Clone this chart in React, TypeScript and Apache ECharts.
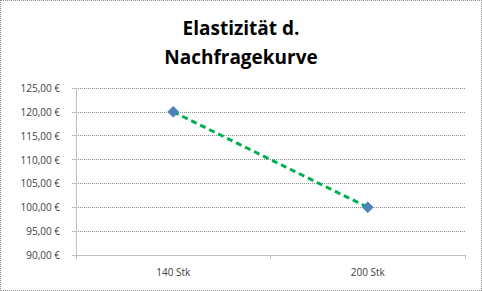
import React, { useEffect, useRef } from "react";
import * as echarts from "echarts";

const categories = ["140 Stk", "200 Stk"];
const prices = [120, 100];
const titleLines = ["Elastizität d.", "Nachfragekurve"];
const yMin = 90;
const yMax = 125;
const yStep = 5;

export default function App() {
  const ref = useRef<HTMLDivElement>(null);
  useEffect(() => {
    const chart = echarts.init(ref.current!, null, { renderer: "svg" });
    chart.setOption({
      animation: false,
      backgroundColor: "#ffffff",
      title: {
        text: titleLines.join("\n"),
        left: "center",
        top: 7,
        textStyle: {
          fontFamily: "Open Sans",
          fontWeight: "bold",
          fontSize: 19,
          lineHeight: 29,
          color: "#000000",
        },
      },
      grid: { left: 75, right: 16, top: 87, bottom: 35 },
      xAxis: {
        type: "category",
        data: categories,
        boundaryGap: true,
        axisLine: { lineStyle: { color: "#bfbfbf", width: 1 } },
        axisTick: { show: true, length: 4, lineStyle: { color: "#bfbfbf" } },
        axisLabel: {
          color: "#404040",
          fontFamily: "Open Sans",
          fontSize: 10,
          margin: 12,
        },
        splitLine: { show: false },
      },
      yAxis: {
        type: "value",
        min: yMin,
        max: yMax,
        interval: yStep,
        axisLine: { show: true, lineStyle: { color: "#bfbfbf", width: 1 } },
        axisTick: { show: true, length: 4, lineStyle: { color: "#bfbfbf" } },
        axisLabel: {
          color: "#404040",
          fontFamily: "Open Sans",
          fontSize: 10,
          margin: 16,
          formatter: (v: number) => v.toFixed(2).replace(".", ",") + " €",
        },
        splitLine: {
          show: true,
          lineStyle: { color: "#8c8c8c", type: [1, 1], width: 1 },
        },
      },
      series: [
        {
          type: "line",
          data: prices,
          symbol: "diamond",
          symbolSize: 11,
          itemStyle: { color: "#4f81bd", borderColor: "#3a6aa5", borderWidth: 0.5 },
          lineStyle: { color: "#00b050", width: 3, type: [6, 4] },
        },
      ],
    });
    return () => chart.dispose();
  }, []);
  return (
    <div
      style={{
        position: "fixed",
        left: 0,
        top: 0,
        width: 482,
        height: 291,
        boxSizing: "border-box",
        border: "1px dotted #8c8c8c",
        background: "#fff",
      }}
    >
      <div ref={ref} style={{ width: 480, height: 289 }} />
    </div>
  );
}
